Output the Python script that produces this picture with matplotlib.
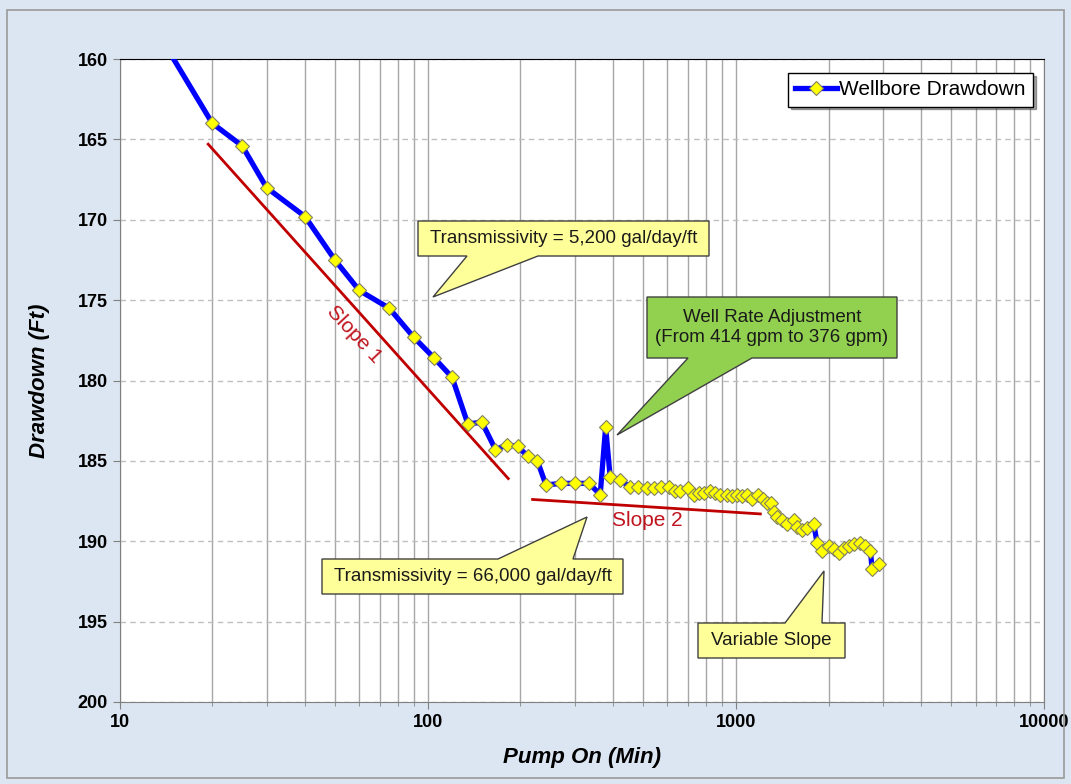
import numpy as np
import matplotlib
matplotlib.use("Agg")
import matplotlib.pyplot as plt
from matplotlib.patches import Polygon, Rectangle

plt.rcParams['font.family'] = ['Liberation Sans', 'DejaVu Sans']

########################################
#   Data
########################################

pump_min = [10, 20, 25, 30, 40, 50, 60, 75, 90, 105, 120, 135, 150, 166, 181, 196, 211, 227,
            242, 271, 301, 334, 363, 378, 391, 422, 452, 482, 513, 541, 573, 605, 636, 661,
            697, 730, 757, 786, 826, 858, 891, 936, 972, 1009, 1047, 1087, 1129, 1181, 1225,
            1262, 1303, 1327, 1361, 1413, 1466, 1541, 1580, 1640, 1702, 1789, 1835, 1905,
            2001, 2078, 2157, 2239, 2323, 2413, 2536, 2634, 2734, 2767, 2909]
drawdown_ft = [154.4, 164.0, 165.4, 168.0, 169.8, 172.5, 174.4, 175.5, 177.3, 178.6, 179.8,
               182.7, 182.6, 184.3, 184.0, 184.1, 184.7, 185.0, 186.5, 186.4, 186.4, 186.4,
               187.1, 182.9, 186.0, 186.2, 186.6, 186.6, 186.7, 186.7, 186.6, 186.6, 186.9,
               186.9, 186.7, 187.1, 187.0, 187.0, 186.9, 187.0, 187.1, 187.1, 187.2, 187.1,
               187.2, 187.1, 187.35, 187.1, 187.35, 187.6, 187.6, 188.2, 188.5, 188.7, 188.9,
               188.7, 189.1, 189.3, 189.2, 188.9, 190.1, 190.6, 190.3, 190.5, 190.7, 190.4,
               190.3, 190.2, 190.1, 190.3, 190.6, 191.7, 191.4]

slope1_x = [19.4, 182.6]
slope1_y = [165.3, 186.1]
slope2_x = [219, 1201]
slope2_y = [187.4, 188.3]

y_ticks = [160, 165, 170, 175, 180, 185, 190, 195, 200]
x_ticks = [10, 100, 1000, 10000]

########################################
#   Figure
########################################

W, H = 1071, 784
fig = plt.figure(figsize=(W / 100, H / 100), dpi=100, facecolor="#DCE6F2")


def px(x, y):
    # pixel position (from top-left) -> figure fraction
    return (x / W, 1 - y / H)


# outer border
fig.patches.append(Rectangle(px(7, 778), (1064 - 7) / W, (778 - 10) / H, transform=fig.transFigure,
                             facecolor="none", edgecolor="#9A9A9A", linewidth=1.2))

ax = fig.add_axes([119.5 / W, 1 - 702 / H, (1044 - 119.5) / W, (702 - 59) / H])
ax.set_facecolor("white")
ax.set_xscale("log")
ax.set_xlim(10, 10000)
ax.set_ylim(200, 160)

# Grid
ax.grid(which='major', axis='x', color="#A6A6A6", linewidth=1, linestyle='-')
ax.grid(which='minor', axis='x', color="#A6A6A6", linewidth=1, linestyle='-')
ax.grid(which='major', axis='y', color="#BFBFBF", linewidth=1, linestyle=(0, (4, 3)))
ax.set_axisbelow(True)

ax.set_yticks(y_ticks)
ax.set_xticks(x_ticks)
ax.set_xticklabels([str(t) for t in x_ticks])
ax.tick_params(axis='both', which='major', labelsize=13, color="#808080", length=5)
ax.tick_params(axis='x', which='minor', color="#808080", length=3)
for lab in ax.get_xticklabels() + ax.get_yticklabels():
    lab.set_fontweight("bold")
for s in ["left", "bottom", "right"]:
    ax.spines[s].set_color("#808080")
ax.spines["top"].set_color("black")

ax.set_xlabel("Pump On (Min)", fontsize=16, fontweight="bold", fontstyle="italic", labelpad=12)
ax.set_ylabel("Drawdown (Ft)", fontsize=16, fontweight="bold", fontstyle="italic", labelpad=20)

# Plot building
ax.plot(slope1_x, slope1_y, color="#C00000", linewidth=2, zorder=3)
ax.plot(slope2_x, slope2_y, color="#C00000", linewidth=2, zorder=3)
ax.plot(pump_min, drawdown_ft, color="#0000FF", linewidth=3.8, marker="D", markersize=7.5,
        markerfacecolor="#FFFF00", markeredgecolor="#808060", markeredgewidth=0.8,
        label="Wellbore Drawdown", zorder=4)

fig.text(*px(354, 334), "Slope 1", fontsize=15, color="#C0141E",
         rotation=-47, ha="center", va="center", rotation_mode="anchor")
fig.text(*px(647, 520), "Slope 2", fontsize=15, color="#C0141E", ha="center", va="center")

# Legend
ax.legend(loc="upper right", bbox_to_anchor=px(1033, 73), bbox_transform=fig.transFigure,
          borderaxespad=0, fontsize=15, frameon=True, fancybox=False, shadow=True,
          edgecolor="black", framealpha=1, handlelength=2.0, handletextpad=0.1,
          borderpad=0.35)


# Callouts
def callout(box, base, tip, text, color, top=False):
    x0, y0, x1, y1 = box
    if top:
        pts = [(x0, y0), (base[0], y0), tip, (base[1], y0), (x1, y0), (x1, y1), (x0, y1)]
    else:
        pts = [(x0, y0), (x1, y0), (x1, y1), (base[1], y1), tip, (base[0], y1), (x0, y1)]
    poly = Polygon([px(*p) for p in pts], closed=True, transform=fig.transFigure,
                   facecolor=color, edgecolor="#404040", linewidth=1, zorder=6)
    fig.patches.append(poly)
    fig.text(*px((x0 + x1) / 2, (y0 + y1) / 2), text, fontsize=13.5, color="#1A1A1A",
             ha="center", va="center", zorder=7, linespacing=1.3)


callout((418, 221, 709, 256), (467, 538), (433, 297),
        "Transmissivity = 5,200 gal/day/ft", "#FFFF99")
callout((647, 297, 897, 358), (688, 752), (617, 435),
        "Well Rate Adjustment\n(From 414 gpm to 376 gpm)", "#92D050")
callout((322, 559, 623, 594), (498, 573), (587, 517),
        "Transmissivity = 66,000 gal/day/ft", "#FFFF99", top=True)
callout((698, 623, 845, 658), (785, 822), (824, 571),
        "Variable Slope", "#FFFF99", top=True)

plt.savefig("out.png", dpi=100, facecolor=fig.get_facecolor())
